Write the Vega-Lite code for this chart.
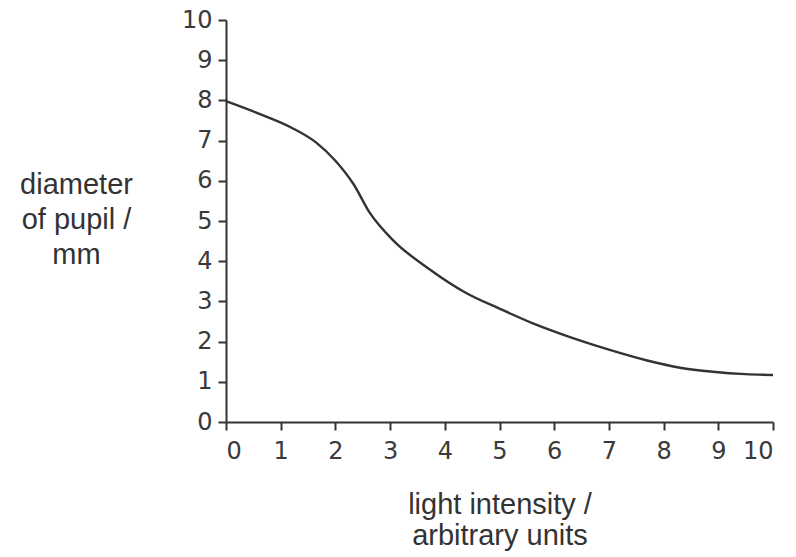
{
  "$schema": "https://vega.github.io/schema/vega-lite/v6.json",
  "width": 547,
  "height": 402,
  "autosize": {"type": "none"},
  "padding": {"left": 226, "top": 20, "right": 23, "bottom": 135},
  "background": "white",
  "config": {
    "view": {"stroke": null},
    "axis": {
      "grid": false,
      "domainColor": "#333",
      "domainWidth": 2,
      "tickColor": "#333",
      "tickWidth": 2,
      "tickSize": 8,
      "labelFont": "DejaVu Sans",
      "labelFontSize": 24,
      "labelColor": "#3a3a3a",
      "titleFont": "Liberation Sans",
      "titleFontSize": 29,
      "titleFontWeight": "normal",
      "titleColor": "#333"
    }
  },
  "data": {
    "values": [
      {"intensity": 0.0, "diameter": 7.98},
      {"intensity": 0.6, "diameter": 7.67},
      {"intensity": 1.2, "diameter": 7.32},
      {"intensity": 1.65, "diameter": 6.95},
      {"intensity": 2.0, "diameter": 6.5},
      {"intensity": 2.33, "diameter": 5.92},
      {"intensity": 2.63, "diameter": 5.2},
      {"intensity": 3.07, "diameter": 4.5},
      {"intensity": 3.7, "diameter": 3.82},
      {"intensity": 4.39, "diameter": 3.21},
      {"intensity": 5.0, "diameter": 2.82},
      {"intensity": 5.6, "diameter": 2.46},
      {"intensity": 6.25, "diameter": 2.13},
      {"intensity": 7.0, "diameter": 1.8},
      {"intensity": 7.7, "diameter": 1.53},
      {"intensity": 8.3, "diameter": 1.35},
      {"intensity": 8.9, "diameter": 1.25},
      {"intensity": 9.5, "diameter": 1.19},
      {"intensity": 10.0, "diameter": 1.17}
    ]
  },
  "mark": {"type": "line", "interpolate": "monotone", "color": "#333", "strokeWidth": 2.4},
  "encoding": {
    "x": {
      "field": "intensity",
      "type": "quantitative",
      "scale": {"domain": [0, 10], "nice": false},
      "axis": {
        "values": [0, 1, 2, 3, 4, 5, 6, 7, 8, 9, 10],
        "labelPadding": 9,
        "title": ["light intensity /", "arbitrary units"],
        "titleLineHeight": 31,
        "titleBaseline": "alphabetic",
        "titleAnchor": "middle",
        "titleY": 91
      }
    },
    "y": {
      "field": "diameter",
      "type": "quantitative",
      "scale": {"domain": [0, 10], "nice": false},
      "axis": {
        "values": [0, 1, 2, 3, 4, 5, 6, 7, 8, 9, 10],
        "labelPadding": 6,
        "title": ["diameter", "of pupil /", "mm"],
        "titleAngle": 0,
        "titleAlign": "center",
        "titleBaseline": "alphabetic",
        "titleLineHeight": 35,
        "titleX": -150,
        "titleY": 173
      }
    }
  }
}
